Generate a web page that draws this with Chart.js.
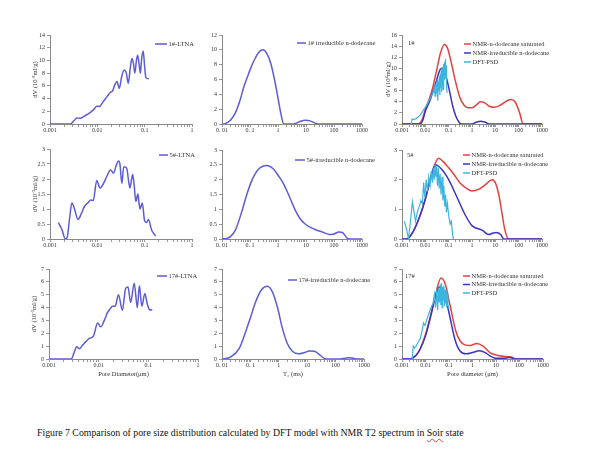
<!DOCTYPE html>
<html>
<head>
<meta charset="utf-8">
<script src="https://cdn.jsdelivr.net/npm/chart.js@4/dist/chart.umd.min.js"></script>
<style>
  body { margin: 0; background: #fff; width: 600px; height: 454px; position: relative; overflow: hidden; font-family: "Liberation Serif", "Times New Roman", serif; }
  #caption { position: absolute; left: 37px; top: 427px; font-size: 9.8px; color: #111; white-space: nowrap; }
  .sq { text-decoration: underline wavy #d43; text-decoration-thickness: 1px; text-underline-offset: 2px; }
</style>
</head>
<body>
<div id="caption">Figure 7 Comparison of pore size distribution calculated by DFT model with NMR T2 spectrum in <span class="sq">Soir</span> state</div>
<script>
// x tick labels
var poreTicksShort = ['0.001', '0.01', '0.1', '1'];
var t2Ticks = ['0. 01', '0. 1', '1', '10', '100', '1000'];
var poreTicksLong = ['0.001', '0.01', '0.1', '1', '10', '100', '1000'];

// 1# LTNA
var ltna1X = [0.001, 0.0027, 0.0032, 0.0037, 0.0044, 0.0055, 0.007, 0.0085, 0.0097, 0.011, 0.013, 0.016, 0.019, 0.021, 0.0235, 0.026, 0.029, 0.033, 0.037, 0.041, 0.045, 0.05, 0.054, 0.058, 0.062, 0.067, 0.071, 0.076, 0.081, 0.087, 0.093, 0.1, 0.106, 0.122];
var ltna1Y = [0, 0, 0.5, 0.95, 0.9, 1.3, 1.8, 2.3, 2.8, 2.75, 3.4, 4.3, 5.0, 5.2, 6.2, 6.7, 5.6, 7.6, 8.5, 8.0, 6.4, 9.0, 10.3, 9.5, 8.0, 10.0, 10.8, 9.5, 8.0, 10.5, 11.5, 9.0, 7.3, 7.1];
// 1# irreducible, T2
var t2Irr1X = [0.01, 0.013, 0.02, 0.03, 0.045, 0.06, 0.08, 0.1, 0.15, 0.2, 0.285, 0.4, 0.55, 0.75, 1.0, 1.3, 1.6, 3, 4.5, 6.5, 9.5, 14, 20, 28, 1000];
var t2Irr1Y = [0, 0.05, 0.5, 1.5, 3.3, 5.0, 6.3, 7.3, 8.8, 9.6, 10, 9.5, 8.2, 6.0, 3.5, 1.2, 0, 0, 0.12, 0.38, 0.5, 0.42, 0.15, 0, 0];
// 1# comparison
var sat1X = [0.001, 0.005, 0.007, 0.01, 0.015, 0.02, 0.03, 0.045, 0.065, 0.09, 0.13, 0.2, 0.3, 0.45, 0.7, 1.0, 1.5, 2.3, 3.5, 5.5, 9, 15, 25, 44, 70, 110, 155, 1000];
var sat1Y = [0, 0, 0.6, 2.6, 4.6, 6.3, 9.5, 12.8, 14.3, 13.6, 11.0, 7.5, 4.8, 3.4, 2.9, 2.9, 3.4, 4.0, 3.8, 3.2, 3.0, 3.3, 3.9, 4.4, 4.0, 2.0, 0, 0];
var irr1X = [0.001, 0.006, 0.008, 0.01, 0.015, 0.02, 0.03, 0.04, 0.047, 0.06, 0.08, 0.11, 0.15, 0.2, 0.27, 0.34, 1.0, 1.5, 2.3, 3.5, 5.5, 1000];
var irr1Y = [0, 0, 0.8, 2.3, 4.0, 5.5, 7.8, 9.5, 10, 9.7, 8.3, 5.8, 3.2, 1.5, 0.4, 0, 0, 0.3, 0.5, 0.35, 0, 0];
var dft1X = [0.0025, 0.0027, 0.0033, 0.004, 0.0048, 0.006, 0.008, 0.0115, 0.016, 0.021, 0.024, 0.026, 0.028, 0.030, 0.032, 0.034, 0.036, 0.038, 0.040, 0.042, 0.044, 0.046, 0.048, 0.050, 0.052, 0.054, 0.056, 0.058, 0.060, 0.062, 0.064, 0.066, 0.068, 0.070, 0.072, 0.075, 0.078, 0.081, 0.085, 0.088];
var dft1Y = [0, 0.9, 0.8, 1.0, 1.2, 1.6, 2.4, 3.4, 4.6, 5.6, 6.6, 5.0, 7.2, 5.5, 8.0, 4.2, 7.5, 6.0, 8.6, 5.2, 9.0, 6.5, 9.8, 5.8, 10.3, 7.0, 9.5, 6.2, 10.8, 7.4, 10.0, 8.0, 11.2, 8.5, 11.7, 9.0, 10.5, 7.0, 5.6, 5.6];

// 5# LTNA
var ltna5X = [0.0015, 0.0018, 0.0021, 0.0023, 0.0026, 0.0029, 0.0033, 0.0039, 0.0046, 0.0054, 0.0063, 0.0073, 0.0082, 0.0097, 0.0114, 0.0135, 0.016, 0.019, 0.022, 0.025, 0.028, 0.030, 0.033, 0.036, 0.038, 0.042, 0.046, 0.049, 0.053, 0.056, 0.06, 0.065, 0.072, 0.076, 0.08, 0.089, 0.1, 0.11, 0.12, 0.14, 0.17];
var ltna5Y = [0.55, 0.3, 0, 0.05, 0.7, 1.2, 1.0, 0.65, 0.85, 1.1, 1.2, 1.3, 1.28, 1.95, 1.7, 1.85, 2.1, 2.3, 2.2, 2.45, 2.6, 2.5, 1.85, 2.4, 2.4, 2.35, 1.9, 1.7, 2.0, 2.15, 1.8, 1.25, 1.5, 1.2, 1.0, 1.2, 0.6, 0.55, 0.65, 0.3, 0.1];
// 5# irreducible, T2
var t2Irr5X = [0.01, 0.015, 0.02, 0.03, 0.05, 0.08, 0.12, 0.2, 0.4, 0.7, 1.0, 1.5, 2.5, 4, 6, 10, 20, 40, 70, 100, 150, 200, 280, 350, 1000];
var t2Irr5Y = [0, 0.02, 0.08, 0.3, 0.9, 1.55, 2.0, 2.35, 2.48, 2.35, 2.15, 1.9, 1.45, 1.0, 0.7, 0.48, 0.33, 0.23, 0.15, 0.17, 0.24, 0.22, 0.05, 0, 0];
// 5# comparison
var sat5X = [0.001, 0.0016, 0.003, 0.006, 0.01, 0.016, 0.025, 0.037, 0.06, 0.1, 0.16, 0.3, 0.6, 1.0, 2, 4, 7.2, 10, 14, 19, 25, 37, 1000];
var sat5Y = [0, 0, 0.25, 0.8, 1.35, 2.0, 2.5, 2.72, 2.6, 2.4, 2.2, 1.9, 1.7, 1.62, 1.68, 1.85, 2.0, 1.9, 1.5, 0.9, 0.35, 0, 0];
var irr5X = [0.001, 0.0016, 0.003, 0.006, 0.01, 0.016, 0.027, 0.05, 0.1, 0.23, 0.52, 1.0, 2.7, 5.2, 8, 11, 17, 23, 1000];
var irr5Y = [0, 0, 0.25, 0.8, 1.35, 1.95, 2.5, 2.35, 2.0, 1.4, 0.8, 0.45, 0.3, 0.15, 0.2, 0.22, 0.15, 0, 0];
var dft5X = [0.00126, 0.0016, 0.0019, 0.0023, 0.0028, 0.0033, 0.0038, 0.0045, 0.0055, 0.0065, 0.0075, 0.0085, 0.0095, 0.011, 0.0125, 0.014, 0.016, 0.018, 0.020, 0.022, 0.024, 0.026, 0.028, 0.030, 0.033, 0.036, 0.039, 0.043, 0.047, 0.052, 0.057, 0.062, 0.068, 0.074, 0.08, 0.088, 0.1, 0.115, 0.13, 0.145, 0.16];
var dft5Y = [0.6, 0.3, 0, 0.6, 1.25, 0.9, 0.6, 0.9, 1.1, 1.3, 1.2, 1.9, 1.4, 2.0, 1.6, 2.1, 1.8, 2.3, 1.9, 2.4, 2.0, 2.5, 2.1, 2.45, 1.8, 2.4, 1.7, 2.2, 1.5, 2.1, 1.3, 1.8, 1.1, 1.5, 0.9, 1.2, 0.8, 0.5, 0.6, 0.2, 0];

// 17# LTNA
var ltna17X = [0.001, 0.0028, 0.0032, 0.0036, 0.0041, 0.0048, 0.0055, 0.0065, 0.0079, 0.0095, 0.011, 0.013, 0.015, 0.017, 0.019, 0.0215, 0.025, 0.03, 0.035, 0.039, 0.044, 0.052, 0.06, 0.066, 0.074, 0.085, 0.095, 0.105, 0.12];
var ltna17Y = [0, 0, 0.5, 0.95, 0.8, 1.1, 1.35, 1.6, 1.8, 2.8, 2.5, 3.0, 3.6, 3.9, 4.1, 4.1, 5.0, 3.8, 5.5, 5.6, 4.4, 5.9, 4.0, 5.7, 4.1, 5.1, 4.3, 3.85, 3.8];
// 17# irreducible, T2
var t2Irr17X = [0.01, 0.012, 0.02, 0.04, 0.07, 0.1, 0.15, 0.25, 0.39, 0.6, 0.9, 1.3, 2, 3, 5, 8, 12, 18, 25, 40, 60, 150, 220, 300, 420, 600, 1000];
var t2Irr17Y = [0, 0.02, 0.15, 0.8, 2.2, 3.2, 4.4, 5.4, 5.65, 5.2, 4.0, 2.5, 1.2, 0.6, 0.4, 0.5, 0.62, 0.6, 0.4, 0.05, 0, 0, 0.06, 0.1, 0.05, 0, 0];
// 17# comparison
var sat17X = [0.001, 0.002, 0.004, 0.006, 0.01, 0.016, 0.025, 0.046, 0.07, 0.11, 0.2, 0.3, 0.47, 0.8, 1.5, 2.8, 5.5, 14, 30, 45, 70, 1000];
var sat17Y = [0, 0, 0.3, 0.8, 1.9, 3.3, 4.8, 6.3, 5.8, 4.2, 2.1, 1.4, 1.1, 1.05, 1.2, 1.0, 0.5, 0.25, 0.18, 0.15, 0, 0];
var irr17X = [0.001, 0.002, 0.004, 0.006, 0.01, 0.016, 0.025, 0.039, 0.06, 0.1, 0.18, 0.3, 0.55, 1.0, 2.0, 3.5, 5.5, 10, 20, 35, 45, 60, 1000];
var irr17Y = [0, 0, 0.3, 0.8, 1.8, 3.2, 4.6, 5.6, 5.2, 3.6, 1.5, 0.6, 0.4, 0.5, 0.65, 0.5, 0.25, 0.05, 0.05, 0.12, 0.1, 0, 0];
var dft17X = [0.0027, 0.003, 0.0034, 0.004, 0.0048, 0.006, 0.0072, 0.0082, 0.0095, 0.012, 0.015, 0.018, 0.021, 0.024, 0.027, 0.030, 0.033, 0.036, 0.039, 0.042, 0.045, 0.048, 0.051, 0.054, 0.057, 0.060, 0.064, 0.068, 0.072, 0.076, 0.08, 0.085, 0.09, 0.095, 0.1];
var dft17Y = [0, 1.0, 0.85, 1.0, 1.3, 1.6, 2.2, 2.8, 2.6, 3.2, 3.7, 4.1, 4.3, 5.0, 4.0, 5.4, 3.8, 5.5, 4.4, 5.8, 4.2, 5.9, 4.0, 5.6, 4.6, 5.7, 4.1, 5.4, 4.3, 5.3, 4.0, 5.1, 4.2, 4.0, 3.9];

var LTNA_BLUE = '#5c5cd6';
var NMR_BLUE = '#3a34c6';
var RED = '#e2423f';
var CYAN = '#3cb5de';

Chart.defaults.font.family = '"Liberation Serif", "Times New Roman", serif';
Chart.defaults.color = '#333';

function pts(xs, ys) {
    return xs.map(function (x, i) { return { x: x, y: ys[i] }; });
}

// legend drawn inside the plot area, like the original figure
var panelLegend = {
    id: 'panelLegend',
    afterDraw: function (chart, args, opts) {
        if (!opts || !opts.items) return;
        var ctx = chart.ctx, a = chart.chartArea;
        ctx.save();
        ctx.font = '6.5px "Liberation Serif"';
        ctx.textBaseline = 'middle';
        ctx.fillStyle = '#333';
        if (opts.tag) ctx.fillText(opts.tag, a.left + opts.tagX, a.top + opts.tagY);
        opts.items.forEach(function (it, i) {
            var x = a.left + opts.x, y = a.top + opts.y + i * (opts.step || 0);
            ctx.strokeStyle = it.color;
            ctx.lineWidth = 1.5;
            ctx.beginPath();
            ctx.moveTo(x, y);
            ctx.lineTo(x + opts.len, y);
            ctx.stroke();
            ctx.fillText(it.label, x + opts.len + 1.5, y);
        });
        ctx.restore();
    }
};

function makePanel(cfg) {
    var b = cfg.box; // plot area: left, top, right, bottom
    var padL = 24, padT = 8, padR = 16, padB = 24;
    var w = b[2] - b[0] + padL + padR, h = b[3] - b[1] + padT + padB;
    var cv = document.createElement('canvas');
    cv.width = w;
    cv.height = h;
    cv.style.cssText = 'position:absolute;left:' + (b[0] - padL) + 'px;top:' + (b[1] - padT) + 'px;width:' + w + 'px;height:' + h + 'px';
    document.body.appendChild(cv);

    var decades = cfg.xLabels.map(function (s) { return parseFloat(s.replace(/\s/g, '')); });
    var tickVals = [];
    decades.forEach(function (d, i) {
        tickVals.push(d);
        if (i < decades.length - 1) {
            for (var m = 2; m <= 9; m++) tickVals.push(d * m);
        }
    });

    new Chart(cv, {
        type: 'line',
        data: {
            datasets: cfg.series.map(function (s) {
                return {
                    label: s.label,
                    data: s.data,
                    borderColor: s.color,
                    borderWidth: s.width || 1.5,
                    pointRadius: 0,
                    fill: false,
                    tension: s.jagged ? 0 : 0.4,
                    cubicInterpolationMode: s.jagged ? 'default' : 'monotone',
                    order: s.order || 0
                };
            })
        },
        options: {
            responsive: false,
            animation: false,
            layout: { padding: { top: padT, right: padR, left: 0, bottom: 0 } },
            plugins: {
                legend: { display: false },
                tooltip: { enabled: false },
                panelLegend: cfg.legend
            },
            scales: {
                x: {
                    type: 'logarithmic',
                    min: decades[0],
                    max: decades[decades.length - 1],
                    afterBuildTicks: function (s) {
                        s.ticks = tickVals.map(function (v) { return { value: v }; });
                    },
                    afterFit: function (s) { s.height = padB; },
                    ticks: {
                        autoSkip: false,
                        maxRotation: 0,
                        padding: 0,
                        font: { size: 6 },
                        callback: function (v) {
                            for (var i = 0; i < decades.length; i++) {
                                if (Math.abs(Math.log10(v) - Math.log10(decades[i])) < 1e-6) return cfg.xLabels[i];
                            }
                            return '';
                        }
                    },
                    grid: { drawOnChartArea: false, tickLength: 3, color: '#999' },
                    border: { color: '#888' },
                    title: { display: !!cfg.xTitle, text: cfg.xTitle, font: { size: 6.5 }, padding: { top: 0, bottom: 5 } }
                },
                y: {
                    type: 'linear',
                    min: 0,
                    max: cfg.yMax,
                    afterFit: function (s) { s.width = padL; },
                    ticks: {
                        stepSize: cfg.yStep,
                        padding: 2,
                        font: { size: 6 },
                        callback: function (v) { return String(Math.round(v * 10) / 10); }
                    },
                    grid: { drawOnChartArea: false, tickLength: 3, color: '#999' },
                    border: { color: '#888' },
                    title: { display: !!cfg.yTitle, text: cfg.yTitle, font: { size: 6.5 }, padding: { top: cfg.yTitlePad || 5, bottom: 0 } }
                }
            }
        },
        plugins: [panelLegend]
    });
}

function compareLegend(tag, x, y, step, tagX, tagY) {
    return {
        x: x, y: y, step: step, len: 7, tag: tag, tagX: tagX, tagY: tagY,
        items: [
            { label: 'NMR-n-dodecane saturated', color: RED },
            { label: 'NMR-irreducible n-dodecane', color: NMR_BLUE },
            { label: 'DFT-PSD', color: CYAN }
        ]
    };
}

function compareSeries(satX, satY, irrX, irrY, dftX, dftY) {
    return [
        { label: 'NMR-n-dodecane saturated', data: pts(satX, satY), color: RED, order: 2 },
        { label: 'NMR-irreducible n-dodecane', data: pts(irrX, irrY), color: NMR_BLUE, order: 1 },
        { label: 'DFT-PSD', data: pts(dftX, dftY), color: CYAN, width: 1.2, jagged: true, order: 0 }
    ];
}

var DV3 = 'dV (10\u207B\u00B3ml/g)';

// row 1
makePanel({
    box: [50, 35, 192, 124], xLabels: poreTicksShort, yMax: 14, yStep: 2, yTitle: DV3,
    series: [{ label: '1#-LTNA', data: pts(ltna1X, ltna1Y), color: LTNA_BLUE }],
    legend: { x: 105, y: 9, len: 12, items: [{ label: '1#-LTNA', color: LTNA_BLUE }] }
});
makePanel({
    box: [222, 35, 362, 124], xLabels: t2Ticks, yMax: 12, yStep: 2,
    series: [{ label: '1# irreducible n-dodecane', data: pts(t2Irr1X, t2Irr1Y), color: LTNA_BLUE }],
    legend: { x: 75, y: 8, len: 9, items: [{ label: '1# irreducible n-dodecane', color: LTNA_BLUE }] }
});
makePanel({
    box: [402, 35, 542, 124], xLabels: poreTicksLong, yMax: 16, yStep: 2, yTitle: 'dV (10\u2074ml/g)', yTitlePad: 6,
    series: compareSeries(sat1X, sat1Y, irr1X, irr1Y, dft1X, dft1Y),
    legend: compareLegend('1#', 62, 9, 9, 6, 8)
});

// row 2
makePanel({
    box: [50, 149, 192, 239], xLabels: poreTicksShort, yMax: 3, yStep: 0.5, yTitle: DV3,
    series: [{ label: '5#-LTNA', data: pts(ltna5X, ltna5Y), color: LTNA_BLUE }],
    legend: { x: 109, y: 6, len: 9, items: [{ label: '5#-LTNA', color: LTNA_BLUE }] }
});
makePanel({
    box: [222, 150, 362, 239], xLabels: t2Ticks, yMax: 3, yStep: 0.5,
    series: [{ label: '5#-irreducible n-dodecane', data: pts(t2Irr5X, t2Irr5Y), color: LTNA_BLUE }],
    legend: { x: 73, y: 10, len: 10, items: [{ label: '5#-irreducible n-dodecane', color: LTNA_BLUE }] }
});
makePanel({
    box: [402, 150, 542, 239], xLabels: poreTicksLong, yMax: 3, yStep: 1,
    series: compareSeries(sat5X, sat5Y, irr5X, irr5Y, dft5X, dft5Y),
    legend: compareLegend('5#', 61, 5, 9, 5, 5)
});

// row 3
makePanel({
    box: [49, 269, 198, 359], xLabels: poreTicksShort, yMax: 7, yStep: 1, yTitle: DV3, xTitle: 'Pore Diameter(\u03BCm)',
    series: [{ label: '17#-LTNA', data: pts(ltna17X, ltna17Y), color: LTNA_BLUE }],
    legend: { x: 108, y: 7, len: 10, items: [{ label: '17#-LTNA', color: LTNA_BLUE }] }
});
makePanel({
    box: [222, 269, 364, 359], xLabels: t2Ticks, yMax: 7, yStep: 1, xTitle: 'T\u2082 (ms)',
    series: [{ label: '17#-irreducible n-dodecane', data: pts(t2Irr17X, t2Irr17Y), color: LTNA_BLUE }],
    legend: { x: 66, y: 11, len: 9, items: [{ label: '17#-irreducible n-dodecane', color: LTNA_BLUE }] }
});
makePanel({
    box: [402, 269, 543, 359], xLabels: poreTicksLong, yMax: 7, yStep: 1, xTitle: 'Pore diameter (\u03BCm)',
    series: compareSeries(sat17X, sat17Y, irr17X, irr17Y, dft17X, dft17Y),
    legend: compareLegend('17#', 61, 7, 8.5, 3, 7)
});
</script>
</body>
</html>
